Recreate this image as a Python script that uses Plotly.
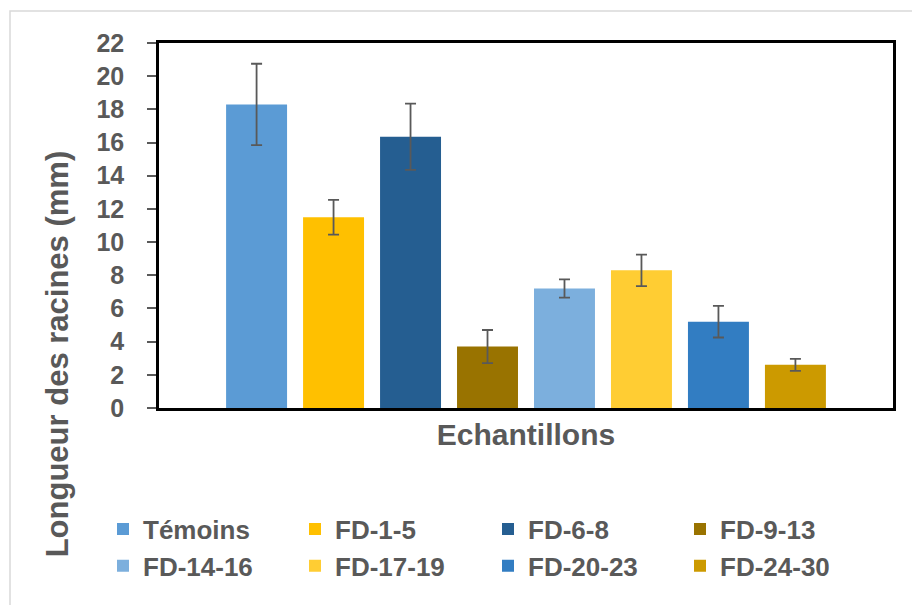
import plotly.graph_objects as go

categories = ["Témoins", "FD-1-5", "FD-6-8", "FD-9-13", "FD-14-16", "FD-17-19", "FD-20-23", "FD-24-30"]
values = [18.3, 11.5, 16.35, 3.7, 7.2, 8.3, 5.2, 2.6]
errors = [2.45, 1.05, 2.0, 1.0, 0.55, 0.95, 0.95, 0.36]
colors = ["#5B9BD5", "#FFC000", "#255E91", "#997300", "#7CAFDD", "#FFCD33", "#327DC2", "#CC9A00"]
y_ticks = list(range(0, 23, 2))

GRAY = "#595959"
SANS = "Liberation Sans, Arial, sans-serif"

legend_ids = ["legend", "legend2", "legend3", "legend4"]

fig = go.Figure()
for i, (c, v, e, col) in enumerate(zip(categories, values, errors, colors)):
    fig.add_trace(go.Bar(
        x=[""], y=[v], name=c,
        marker=dict(color=col, line=dict(width=0)),
        error_y=dict(type="data", array=[e], visible=True, color=GRAY, thickness=1.8, width=5.5),
        legend=legend_ids[i % 4],
    ))

legend_common = dict(orientation="v", xref="container", yref="container", xanchor="left", yanchor="top",
                     y=1 - 505.6 / 605,
                     font=dict(family=SANS, size=26, color=GRAY, weight="bold"),
                     itemclick=False, traceorder="normal", bgcolor="rgba(0,0,0,0)")
legend_x = [103, 295, 488, 680]

fig.update_layout(
    width=912, height=605,
    margin=dict(l=159, r=19, t=43, b=197, autoexpand=False),
    paper_bgcolor="white", plot_bgcolor="white",
    barmode="group", bargap=0.161, bargroupgap=0.208,
    xaxis=dict(showticklabels=False, ticks="", showline=True, linecolor="black", linewidth=2.5,
               mirror=True, showgrid=False, zeroline=False, automargin=False,
               title=dict(text="Echantillons", font=dict(family=SANS, size=30, color=GRAY, weight="bold"),
                          standoff=15)),
    yaxis=dict(range=[0, 22], tickvals=y_ticks, ticks="outside", ticklen=9, tickwidth=2, tickcolor=GRAY,
               showline=True, linecolor="black", linewidth=2.5, mirror=True, showgrid=False, zeroline=False,
               automargin=False,
               tickfont=dict(family=SANS, size=25, color=GRAY, weight="bold"), ticklabelstandoff=18),
    shapes=[dict(type="rect", xref="paper", yref="paper", x0=-0.203, x1=1.05, y0=-0.7, y1=1.0877,
                 line=dict(color="#D9D9D9", width=1.5), fillcolor="rgba(0,0,0,0)", layer="below")],
    annotations=[dict(text="Longueur des racines (mm)", textangle=-90, xref="paper", yref="paper",
                      x=-0.138, y=0.149, showarrow=False, xanchor="center", yanchor="middle",
                      font=dict(family=SANS, size=31, color=GRAY, weight="bold"))],
)
for lid, lx in zip(legend_ids, legend_x):
    fig.update_layout({lid: dict(x=lx / 912, **legend_common)})

fig.write_html("out.html", config={"displayModeBar": False},
               post_script="document.body.style.margin='0';document.body.style.overflow='hidden';")
